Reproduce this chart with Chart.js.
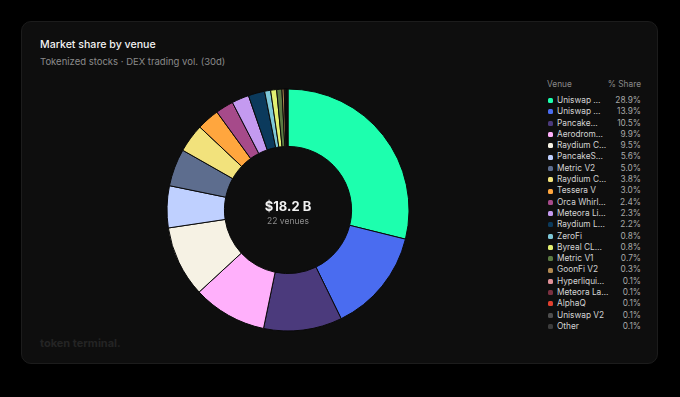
<!DOCTYPE html>
<html><head><meta charset="utf-8">
<script src="https://cdn.jsdelivr.net/npm/chart.js@4"></script>
<style>
html,body{margin:0;padding:0;background:#000;width:680px;height:397px;overflow:hidden;font-family:Inter,"Noto Sans",sans-serif;}
#card{position:absolute;left:21px;top:21px;width:637px;height:343px;background:#0e0e0e;border:1px solid #1c1c1c;border-radius:10px;box-sizing:border-box;}
#title{position:absolute;left:40px;top:38px;color:#f2f2f2;font-size:10.6px;font-weight:500;}
#sub{position:absolute;left:40px;top:56px;color:#8a8a8a;font-size:9.5px;}
#wrap{position:absolute;left:160px;top:82px;width:256px;height:256px;}
#center{position:absolute;left:188px;top:198px;width:200px;text-align:center;pointer-events:none;}
#cv{font-size:13px;font-weight:700;color:#f2f2f2;}
#cl{font-size:8.5px;color:#8c8c8c;margin-top:2px;}
#legend{position:absolute;left:547px;top:78px;width:94px;font-size:8.3px;}
.hd{display:flex;justify-content:space-between;color:#8a8a8a;height:12px;line-height:12px;margin-bottom:5px;}
.row{display:flex;align-items:center;height:11.3px;line-height:11.3px;color:#d4d4d4;}
.dot{width:5px;height:5px;border-radius:1.5px;margin:0 4px 0 1px;flex:none;}
.lab{flex:1;white-space:nowrap;}
.val{color:#a8a8a8;text-align:right;}
#wm{position:absolute;left:40px;top:336px;color:#242424;font-size:11px;font-weight:700;}
</style></head>
<body>
<div id="card"></div>
<div id="title">Market share by venue</div>
<div id="sub">Tokenized stocks · DEX trading vol. (30d)</div>
<div id="wrap"><canvas id="c" width="256" height="256"></canvas></div>
<div id="center"><div id="cv">$18.2 B</div><div id="cl">22 venues</div></div>
<div id="legend"></div>
<div id="wm">token terminal.</div>
<script>
const venues = ["Uniswap …","Uniswap …","Pancake…","Aerodrom…","Raydium C…","PancakeS…","Metric V2","Raydium C…","Tessera V","Orca Whirl…","Meteora Li…","Raydium L…","ZeroFi","Byreal CL…","Metric V1","GoonFi V2","Hyperliqui…","Meteora La…","AlphaQ","Uniswap V2","Other"];
const shares = [28.9,13.9,10.5,9.9,9.5,5.6,5.0,3.8,3.0,2.4,2.3,2.2,0.8,0.8,0.7,0.3,0.1,0.1,0.1,0.1,0.1];
const colors = ["#1dffae","#4a6cf0","#4b3a7c","#ffb0fb","#f6f2e4","#bfd0ff","#5d6d8e","#f2e27c","#ffa63e","#a64a8a","#c49af0","#0b3a5c","#7ec8d8","#e2f072","#5b7a42","#b08850","#e09098","#7a3040","#e2402f","#4e4e4e","#3c3c3c"];
const totalLabel = "$18.2 B";
const countLabel = "22 venues";

const lg = document.getElementById('legend');
let h = '<div class="hd"><span>Venue</span><span>% Share</span></div>';
venues.forEach((v,i)=>{
  h += '<div class="row"><span class="dot" style="background:'+colors[i]+'"></span><span class="lab">'+v+'</span><span class="val">'+shares[i].toFixed(1)+'%</span></div>';
});
lg.innerHTML = h;

new Chart(document.getElementById('c'), {
  type: 'doughnut',
  data: { labels: venues, datasets: [{ data: shares, backgroundColor: colors, borderColor: '#0a0a0a', borderWidth: 1 }] },
  options: {
    responsive: false, animation: false,
    radius: 121, cutout: 67,
    plugins: { legend: { display: false }, tooltip: { enabled: false } }
  }
});
</script>
</body></html>
